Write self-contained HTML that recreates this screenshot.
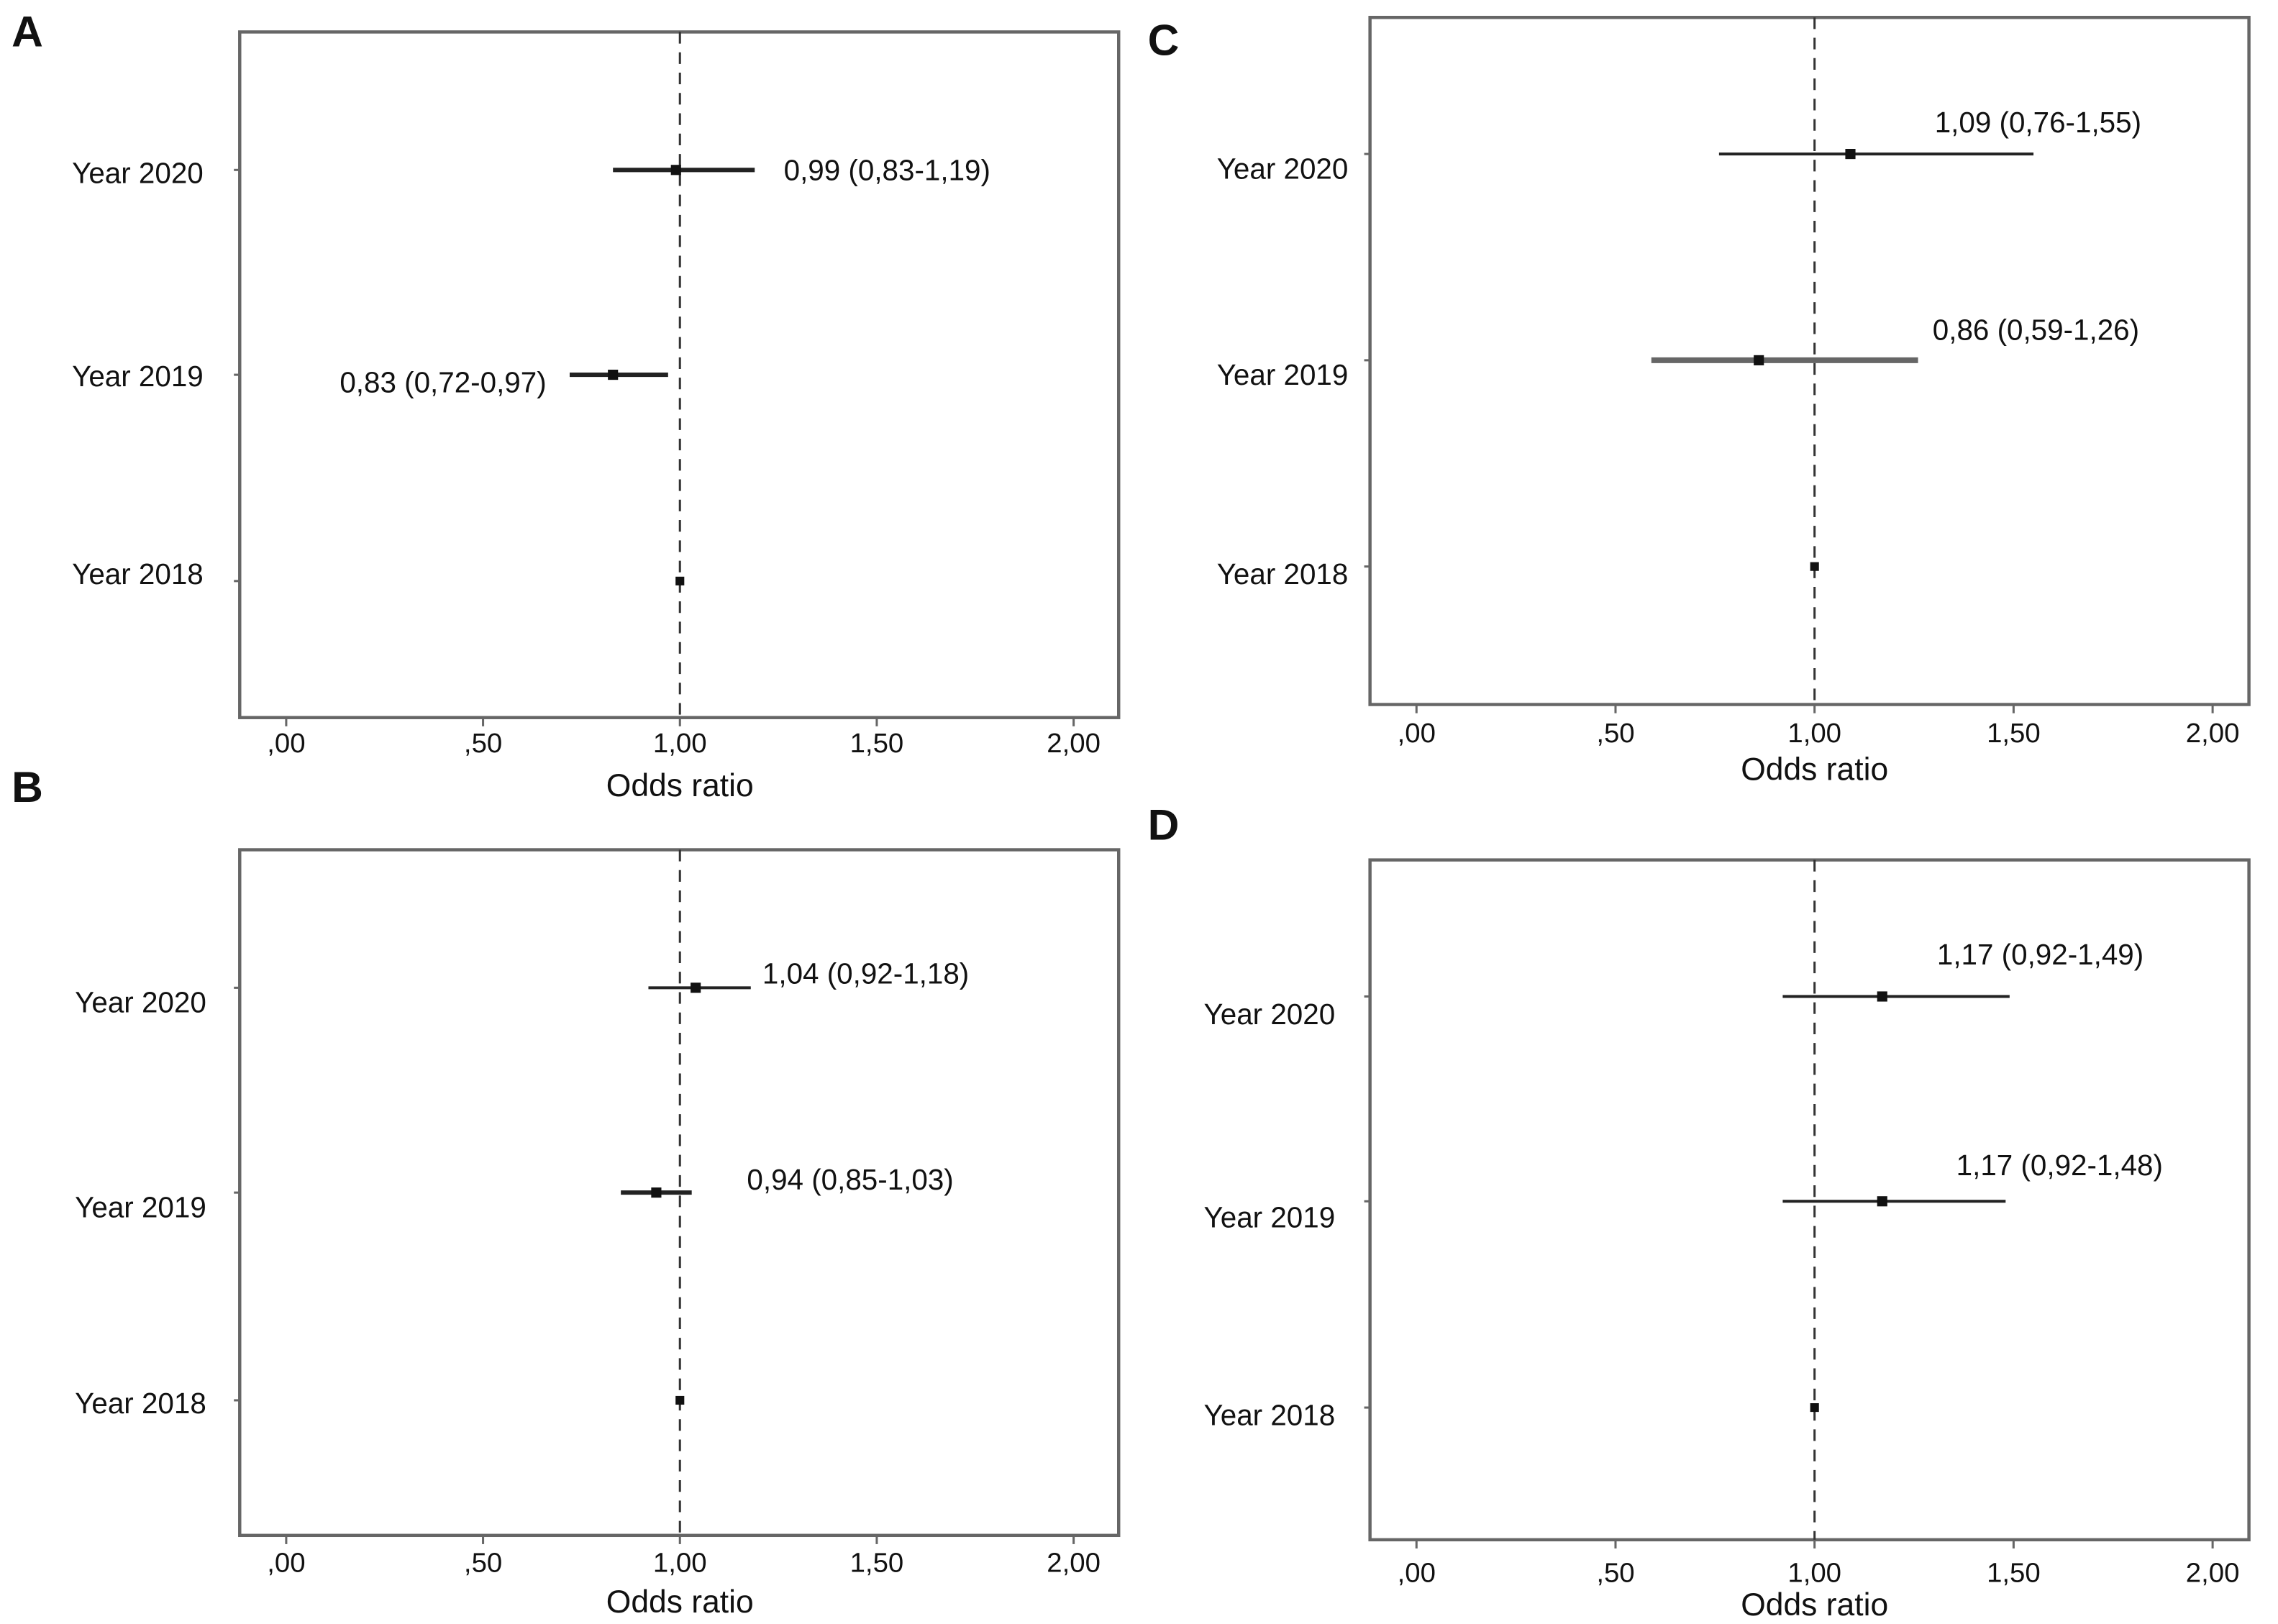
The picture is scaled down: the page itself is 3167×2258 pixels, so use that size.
<!DOCTYPE html>
<html><head><meta charset="utf-8"><style>
html,body{margin:0;padding:0;background:#fff;}
svg{display:block;}
text{font-family:"Liberation Sans",Arial,sans-serif;fill:#111;}
</style></head><body>
<svg id="chart" width="3167" height="2258" viewBox="0 0 1568 1118" preserveAspectRatio="none" xmlns="http://www.w3.org/2000/svg"></svg>
<script>
// ---- data ----
const categories = ["Year 2020","Year 2019","Year 2018"];
const tickValues = [0,0.5,1,1.5,2];
const tickLabels = [",00",",50","1,00","1,50","2,00"];
const estA=[0.99,0.83,1.00], loA=[0.83,0.72,1.00], hiA=[1.19,0.97,1.00];
const labA=["0,99 (0,83-1,19)","0,83 (0,72-0,97)",""];
const estB=[1.04,0.94,1.00], loB=[0.92,0.85,1.00], hiB=[1.18,1.03,1.00];
const labB=["1,04 (0,92-1,18)","0,94 (0,85-1,03)",""];
const estC=[1.09,0.86,1.00], loC=[0.76,0.59,1.00], hiC=[1.55,1.26,1.00];
const labC=["1,09 (0,76-1,55)","0,86 (0,59-1,26)",""];
const estD=[1.17,1.17,1.00], loD=[0.92,0.92,1.00], hiD=[1.49,1.48,1.00];
const labD=["1,17 (0,92-1,49)","1,17 (0,92-1,48)",""];

// ---- layout ----
const panels=[
 {id:"a",letter:"A",lx:8,ly:32,L:165,T:22,R:770,B:494,x0:197,x1:468,rows:[117,258,400],catY:[126,266,402],catX:140,tickY:518,titleY:548,est:estA,lo:loA,hi:hiA,lab:labA,
  lpos:[{dx:20,dy:7,anchor:"start",ref:"hi"},{dx:-16,dy:12,anchor:"end",ref:"lo"}],w:[3,3]},
 {id:"b",letter:"B",lx:8,ly:552,L:165,T:585,R:770,B:1057,x0:197,x1:468,rows:[680,821,964],catY:[697,838,973],catX:142,tickY:1082,titleY:1110,est:estB,lo:loB,hi:hiB,lab:labB,
  lpos:[{dx:8,dy:-3,anchor:"start",ref:"hi"},{dx:38,dy:-2,anchor:"start",ref:"hi"}],w:[2,3]},
 {id:"c",letter:"C",lx:790,ly:38,L:943,T:12,R:1548,B:485,x0:975,x1:1249,rows:[106,248,390],catY:[123,265,402],catX:928,tickY:511,titleY:537,est:estC,lo:loC,hi:hiC,lab:labC,
  lpos:[{dx:-68,dy:-15,anchor:"start",ref:"hi"},{dx:10,dy:-14,anchor:"start",ref:"hi"}],w:[2,4]},
 {id:"d",letter:"D",lx:790,ly:578,L:943,T:592,R:1548,B:1060,x0:975,x1:1249,rows:[686,827,969],catY:[705,845,981],catX:919,tickY:1089,titleY:1112,est:estD,lo:loD,hi:hiD,lab:labD,
  lpos:[{dx:-50,dy:-22,anchor:"start",ref:"hi"},{dx:-34,dy:-18,anchor:"start",ref:"hi"}],w:[2,2]}
];
const NS="http://www.w3.org/2000/svg";
const svg=document.getElementById("chart");
function mk(tag,attrs,parent,txt){const e=document.createElementNS(NS,tag);for(const k in attrs)e.setAttribute(k,attrs[k]);if(txt!==undefined)e.textContent=txt;(parent||svg).appendChild(e);return e;}

panels.forEach(p=>{
  const xs=v=>p.x0+(p.x1-p.x0)*v;
  const g=mk("g",{});
  
  
  const let_=mk("text",{x:p.lx,y:p.ly,"font-size":30,"font-weight":"bold"},g,p.letter);
  
  
  const fr=mk("rect",{x:p.L,y:p.T,width:p.R-p.L,height:p.B-p.T,fill:"none",stroke:"#666","stroke-width":2.2},g);
  
  
  const ref=mk("line",{x1:xs(1),x2:xs(1),y1:p.T,y2:p.B,stroke:"#333","stroke-width":1.5,"stroke-dasharray":"8,6"},g);
  
  
  tickValues.forEach((v,i)=>{
    const tk=mk("line",{x1:xs(v),x2:xs(v),y1:p.B,y2:p.B+6,stroke:"#666","stroke-width":1.5},g);
    
    
    const tl=mk("text",{x:xs(v),y:p.tickY,"font-size":19,"text-anchor":"middle"},g,tickLabels[i]);
    
    
  });
  const xt=mk("text",{x:xs(1),y:p.titleY,"font-size":22,"text-anchor":"middle"},g,"Odds ratio");
  
  
  categories.forEach((c,i)=>{
    const y=p.rows[i];
    const ct=mk("text",{x:p.catX,y:p.catY[i],"font-size":20,"text-anchor":"end"},g,c);
    
    
    const yt=mk("line",{x1:p.L-4,x2:p.L,y1:y,y2:y,stroke:"#666","stroke-width":1.5},g);
    
    
    if(p.lo[i]!==p.hi[i]){
      const ci=mk("line",{x1:xs(p.lo[i]),x2:xs(p.hi[i]),y1:y,y2:y,stroke:i===1&&p.id==="c"?"#666":"#222","stroke-width":p.w[i]},g);
      
      
    }
    const s=i===2?6:7;
    const pt=mk("rect",{x:xs(p.est[i])-s/2,y:y-s/2,width:s,height:s,fill:"#111"},g);
    
    
    if(p.lab[i]){
      const lp=p.lpos[i];
      const bx=lp.ref==="hi"?xs(p.hi[i]):xs(p.lo[i]);
      const vl=mk("text",{x:bx+lp.dx,y:y+lp.dy,"font-size":20,"text-anchor":lp.anchor},g,p.lab[i]);
      
      
    }
  });
});
</script>
</body></html>
